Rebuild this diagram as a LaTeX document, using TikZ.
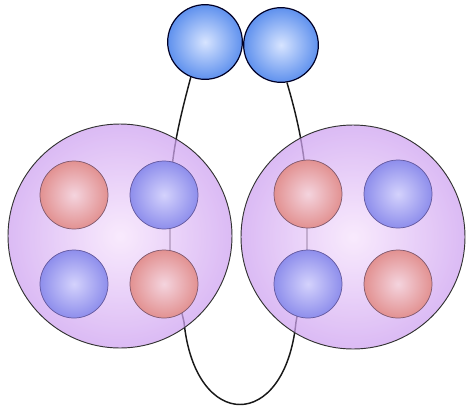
\documentclass[tikz,border=0pt]{standalone}
\begin{document}
\begin{tikzpicture}[x=0.75pt,y=-0.75pt,
  topball/.style={circle,draw=black!85!blue,line width=0.9pt,minimum size=56pt,inner sep=0pt,
    shading=radial,inner color={rgb,255:red,215;green,228;blue,255},outer color={rgb,255:red,95;green,145;blue,238}},
  bigball/.style={circle,draw=black!80,line width=0.7pt,minimum size=168pt,inner sep=0pt,
    shading=radial,inner color={rgb,255:red,246;green,226;blue,252},outer color={rgb,255:red,205;green,160;blue,240},fill opacity=0.72},
  redball/.style={circle,draw={rgb,255:red,130;green,90;blue,110},line width=0.55pt,minimum size=51pt,inner sep=0pt,
    shading=radial,inner color={rgb,255:red,244;green,212;blue,222},outer color={rgb,255:red,226;green,145;blue,145}},
  blueball/.style={circle,draw={rgb,255:red,100;green,90;blue,160},line width=0.55pt,minimum size=51pt,inner sep=0pt,
    shading=radial,inner color={rgb,255:red,212;green,210;blue,252},outer color={rgb,255:red,142;green,142;blue,236}},
  wire/.style={draw=black!90,line width=1.1pt}]
\useasboundingbox (0,0) rectangle (467,408);
% top balls
\node[topball] (t1) at (205,42) {};
\node[topball] (t2) at (281,45) {};
% wire coordinates
\coordinate (la) at (170,205);
\coordinate (lb) at (170,262);
\coordinate (lc) at (184,322);
\coordinate (rc) at (296,322);
\coordinate (rb) at (307,262);
\coordinate (ra) at (307,205);
\draw[wire] (t1.248) .. controls (178,125) and (170,160) .. (la) -- (lb) -- (lc)
  .. controls (195,432) and (285,432) .. (rc) -- (rb) -- (ra)
  .. controls (307,160) and (298,120) .. (t2.279);
% big balls
\node[bigball] (L) at (120,236) {};
\node[bigball] (R) at (353,237) {};
% small balls
\node[redball]  (l1) at (74,195) {};
\node[blueball] (l2) at (164,195) {};
\node[blueball] (l3) at (74,284) {};
\node[redball]  (l4) at (164,284) {};
\node[redball]  (r1) at (308,194) {};
\node[blueball] (r2) at (398,194) {};
\node[blueball] (r3) at (308,284) {};
\node[redball]  (r4) at (398,284) {};
\end{tikzpicture}
\end{document}
